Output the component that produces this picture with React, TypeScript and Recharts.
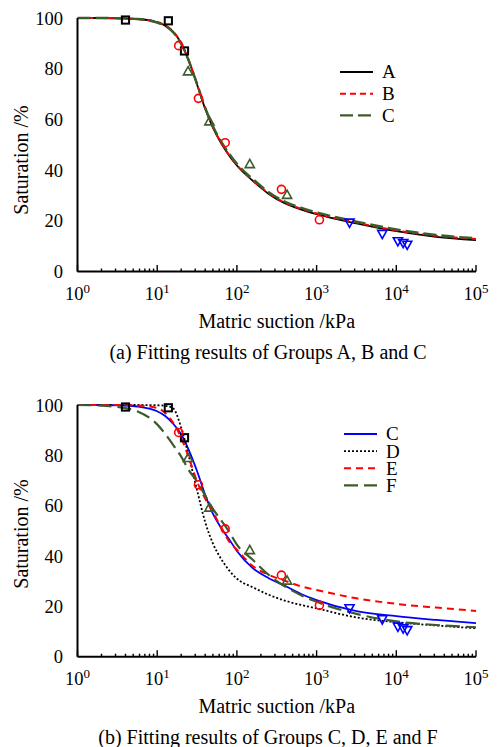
import React from "react";
import { ComposedChart, Line, Scatter, XAxis, YAxis, Legend, Label } from "recharts";

const SERIF = '"Liberation Serif", "Times New Roman", Times, serif';

// ─── Data ─────────────────────────────────────────────────────────────────────

const SUCTION = [1, 1.8, 3.2, 5.6, 10, 12.6, 15.8, 20, 25, 32, 40, 50, 63, 79, 100, 158, 251, 398, 631, 1000, 3162, 10000, 31623, 100000];

// (a) fitted curves, saturation %
const FIT_A = [100, 100, 99.9, 99.6, 98.3, 97, 94.6, 90, 83, 73.3, 64.2, 56.8, 50.8, 46, 41.8, 35.8, 30.6, 26.9, 24.5, 22.6, 19, 15.9, 13.7, 12.4];
const FIT_B = [100, 100, 99.9, 99.6, 98.4, 97.1, 94.7, 90.2, 83.2, 73.5, 64.4, 57, 51, 46.2, 42, 36, 30.9, 27.2, 24.8, 22.9, 19.3, 16.2, 14.1, 12.8];
const FIT_C = [100, 100, 99.9, 99.6, 98.2, 96.9, 94.4, 89.8, 83, 73.5, 64.6, 57.3, 51.4, 46.7, 42.5, 36.5, 31.3, 27.6, 25.2, 23.3, 19.7, 16.6, 14.4, 13.1];

// (b) fitted curves, saturation %
const FIT_C2 = [100, 100, 99.9, 99.4, 97.5, 95.6, 92.6, 88.4, 82, 73.3, 64.3, 56.8, 51.3, 46.9, 42, 35.2, 31.2, 28.2, 25, 22.5, 18.1, 16.1, 14.6, 13.3];
const FIT_D = [100, 100, 100, 100, 99.9, 99.7, 98.7, 91, 79.5, 65.5, 53.5, 45, 39, 34.5, 31, 27.6, 24.6, 22.3, 20.6, 19.2, 15.6, 13.7, 12.4, 11.3];
const FIT_E = [100, 100, 100, 99.8, 98.8, 96.8, 93, 87, 79, 69.2, 62.8, 57.5, 51.5, 46, 42.5, 36, 32.5, 30.2, 28, 26.5, 23.2, 21, 19.5, 18.2];
const FIT_F = [100, 99.8, 99.2, 97.5, 92.3, 88.5, 84.2, 79.5, 74, 69.4, 64, 58.7, 54.3, 49.9, 44.5, 38.5, 32.5, 28, 24.5, 21.8, 17, 14, 12.6, 11.7];

// measured points
const SQUARE_X = [4, 13.8, 22];
const SQUARE_Y = [99.2, 98.9, 87];
const CIRCLE_X = [18.6, 32.9, 71.3, 362, 1084];
const CIRCLE_Y = [89.1, 68.3, 50.8, 32.4, 20.4];
const TRIANGLE_X = [24.4, 45.2, 145, 426];
const TRIANGLE_Y = [78.9, 59.2, 42.3, 30.2];
const INV_TRIANGLE_X = [2590, 6670, 10470, 12200, 13700];
const INV_TRIANGLE_Y = [19.3, 14.9, 12, 11.3, 10.6];

const X_DECADES = [1, 10, 100, 1000, 10000, 100000];
const MINOR_STEPS = [2, 3, 4, 5, 6, 7, 8, 9];
const Y_TICKS = [0, 20, 40, 60, 80, 100];

const X_TICKS = [
  ...X_DECADES,
  ...X_DECADES.slice(0, -1).flatMap((d) => MINOR_STEPS.map((m) => m * d)),
].sort((a, b) => a - b);

const GREEN = "#3d5c2c";

const toPoints = (xs: number[], ys: number[]) => xs.map((x, i) => ({ x, y: ys[i] }));

const squares = toPoints(SQUARE_X, SQUARE_Y);
const circles = toPoints(CIRCLE_X, CIRCLE_Y);
const triangles = toPoints(TRIANGLE_X, TRIANGLE_Y);
const invTriangles = toPoints(INV_TRIANGLE_X, INV_TRIANGLE_Y);

type Series = { key: string; name: string; values: number[]; color: string; dash?: string; width: number };

const SERIES_A: Series[] = [
  { key: "A", name: "A", values: FIT_A, color: "#000", width: 1.8 },
  { key: "B", name: "B", values: FIT_B, color: "#ff0000", dash: "6 4", width: 2 },
  { key: "C", name: "C", values: FIT_C, color: GREEN, dash: "13 5", width: 2.4 },
];

const SERIES_B: Series[] = [
  { key: "C", name: "C", values: FIT_C2, color: "#0000ff", width: 1.8 },
  { key: "D", name: "D", values: FIT_D, color: "#000", dash: "2 2", width: 1.8 },
  { key: "E", name: "E", values: FIT_E, color: "#ff0000", dash: "7 5", width: 2 },
  { key: "F", name: "F", values: FIT_F, color: GREEN, dash: "14 6", width: 2.2 },
];

const buildRows = (series: Series[]) =>
  SUCTION.map((x, i) => {
    const row: Record<string, number> = { x };
    series.forEach((s) => (row[s.key] = s.values[i]));
    return row;
  });

// ─── Markers ──────────────────────────────────────────────────────────────────

const SquareMark = ({ cx, cy }: any) => (
  <rect x={cx - 3.6} y={cy - 3.6} width={7.2} height={7.2} fill="none" stroke="#000" strokeWidth={2} />
);
const CircleMark = ({ cx, cy }: any) => (
  <circle cx={cx} cy={cy} r={4} fill="none" stroke="#ff0000" strokeWidth={1.6} />
);
const TriangleMark = ({ cx, cy }: any) => (
  <path d={`M${cx},${cy - 4.8}L${cx + 4.6},${cy + 3.4}L${cx - 4.6},${cy + 3.4}Z`} fill="none" stroke={GREEN} strokeWidth={1.6} />
);
const InvTriangleMark = ({ cx, cy }: any) => (
  <path d={`M${cx},${cy + 4.8}L${cx + 4.6},${cy - 3.4}L${cx - 4.6},${cy - 3.4}Z`} fill="none" stroke="#0000ff" strokeWidth={1.6} />
);

// ─── Axis ticks ───────────────────────────────────────────────────────────────

// inward tick marks, labels as 10^n
function XTick(props: any) {
  const { x, y, payload } = props;
  const exp = Math.log10(payload.value);
  const major = Math.abs(exp - Math.round(exp)) < 1e-6;
  return (
    <g>
      <line x1={x} x2={x} y1={y} y2={y - (major ? 6.5 : 3)} stroke="#000" strokeWidth={1.4} />
      {major && (
        <text x={x} y={y + 28.5} textAnchor="middle" fontFamily={SERIF} fontSize={18.5} fill="#000">
          10
          <tspan dy={-7.5} fontSize={13}>
            {Math.round(exp)}
          </tspan>
        </text>
      )}
    </g>
  );
}

// ─── Panel ────────────────────────────────────────────────────────────────────

interface PanelProps {
  series: Series[];
  caption: string;
  height: number;
  marginTop: number;
  xAxisHeight: number;
  yTitleY: number;
  legendTop: number;
  legendLeft: number;
  legendGap: number;
}

const LEGEND_PAD = 14;

function Panel({ series, caption, height, marginTop, xAxisHeight, yTitleY, legendTop, legendLeft, legendGap }: PanelProps) {
  const rows = buildRows(series);

  const renderLegend = () => (
    <svg width={80} height={legendGap * series.length + LEGEND_PAD * 2} style={{ overflow: "visible", display: "block" }}>
      {series.map((s, i) => (
        <g key={s.key}>
          <line
            x1={0}
            x2={33}
            y1={LEGEND_PAD + i * legendGap}
            y2={LEGEND_PAD + i * legendGap}
            stroke={s.color}
            strokeWidth={s.width}
            strokeDasharray={s.dash}
          />
          <text x={42} y={LEGEND_PAD + i * legendGap} dy="0.34em" fontFamily={SERIF} fontSize={19} fill="#000">
            {s.name}
          </text>
        </g>
      ))}
    </svg>
  );

  return (
    <ComposedChart width={497} height={height} data={rows} margin={{ top: marginTop, right: 21, left: 0, bottom: 0 }}>
      <XAxis
        dataKey="x"
        type="number"
        scale="log"
        domain={[1, 100000]}
        allowDataOverflow
        ticks={X_TICKS}
        interval={0}
        tick={<XTick />}
        tickLine={false}
        tickSize={0}
        tickMargin={0}
        height={xAxisHeight}
        axisLine={{ stroke: "#000", strokeWidth: 2 }}
        label={
          <Label
            content={({ viewBox }: any) => (
              <g fontFamily={SERIF} fill="#000">
                <text x={viewBox.x + viewBox.width / 2} y={viewBox.y + 56.5} textAnchor="middle" fontSize={20}>
                  Matric suction /kPa
                </text>
                <text x={268} y={viewBox.y + 87.5} textAnchor="middle" fontSize={20}>
                  {caption}
                </text>
              </g>
            )}
          />
        }
      />
      <YAxis
        type="number"
        domain={[0, 100]}
        ticks={Y_TICKS}
        interval={0}
        width={77.5}
        tickLine={false}
        tickSize={0}
        tickMargin={14.5}
        tick={{ fontSize: 18.5, fill: "#000", fontFamily: SERIF }}
        axisLine={{ stroke: "#000", strokeWidth: 2 }}
        label={
          <Label
            content={() => (
              <text x={27.5} y={yTitleY} transform={`rotate(-90, 27.5, ${yTitleY})`} textAnchor="middle" fontFamily={SERIF} fontSize={20} fill="#000">
                Saturation /%
              </text>
            )}
          />
        }
      />
      <Legend
        content={renderLegend}
        layout="vertical"
        align="center"
        verticalAlign="middle"
        wrapperStyle={{ top: legendTop - LEGEND_PAD, left: legendLeft, width: 80, overflow: "visible" }}
      />
      {series.map((s) => (
        <Line
          key={s.key}
          dataKey={s.key}
          name={s.name}
          type="monotone"
          stroke={s.color}
          strokeWidth={s.width}
          strokeDasharray={s.dash}
          dot={false}
          activeDot={false}
          legendType="none"
          isAnimationActive={false}
        />
      ))}
      <Scatter data={squares} dataKey="y" shape={SquareMark} legendType="none" isAnimationActive={false} />
      <Scatter data={circles} dataKey="y" shape={CircleMark} legendType="none" isAnimationActive={false} />
      <Scatter data={triangles} dataKey="y" shape={TriangleMark} legendType="none" isAnimationActive={false} />
      <Scatter data={invTriangles} dataKey="y" shape={InvTriangleMark} legendType="none" isAnimationActive={false} />
    </ComposedChart>
  );
}

export default function App() {
  return (
    <div style={{ position: "absolute", left: 0, top: 0, width: 497, height: 747, background: "#fff" }}>
      <div style={{ position: "absolute", left: 0, top: 0 }}>
        <Panel
          series={SERIES_A}
          caption="(a) Fitting results of Groups A, B and C"
          height={366}
          marginTop={18}
          xAxisHeight={94.5}
          yTitleY={160}
          legendTop={71.7}
          legendLeft={340}
          legendGap={21.7}
        />
      </div>
      <div style={{ position: "absolute", left: 0, top: 380 }}>
        <Panel
          series={SERIES_B}
          caption="(b) Fitting results of Groups C, D, E and F"
          height={367}
          marginTop={25}
          xAxisHeight={90.3}
          yTitleY={154}
          legendTop={54.3}
          legendLeft={344.3}
          legendGap={17.1}
        />
      </div>
    </div>
  );
}
